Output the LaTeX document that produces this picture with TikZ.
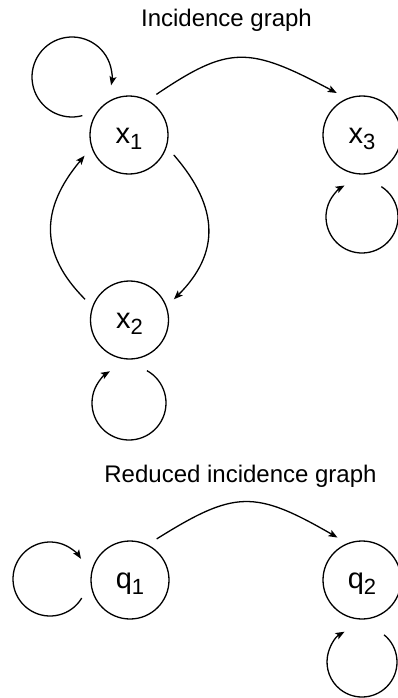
\documentclass[tikz,border=0pt]{standalone}
\usepackage{fontspec}
\setmainfont{Liberation Sans}
\usetikzlibrary{arrows.meta,calc}
\newcommand\idx[1]{\raisebox{-6pt}{\fontsize{22}{24}\selectfont #1}}
\begin{document}
\begin{tikzpicture}[x=1pt,y=1pt,
  state/.style={circle, draw, line width=1.3pt, minimum size=78pt, inner sep=0pt,
    outer sep=10pt, text height=16pt, text depth=0pt, font=\fontsize{29}{30}\selectfont},
  arr/.style={line width=1.3pt, -{Stealth[length=9pt,width=7pt,inset=2pt]}},
  title/.style={anchor=base, inner sep=0pt, font=\fontsize{24}{28}\selectfont}]
\useasboundingbox (0,0) rectangle (398,-698);

% incidence graph
\node[title] (t1) at (226.5,-27) {Incidence graph};
\node[state] (x1) at (129,-135) {x\idx{1}};
\node[state] (x3) at (362,-135) {x\idx{3}};
\node[state] (x2) at (129.5,-320) {x\idx{2}};

\draw[arr] (x1.56) to[out=34, in=152, out distance=88pt, in distance=100pt] (x3.121);
\draw[arr] (x1.-24) to[out=-49, in=45, out distance=70pt, in distance=65pt] (x2.25);
\draw[arr] (x2.155) to[out=135, in=230, out distance=64pt, in distance=70pt] (x1.205);

% self loops, drawn as circular arcs
\coordinate (la) at ($(72,-77)+(-75:40)$);
\draw[arr] (la) arc[start angle=-75, end angle=-372, radius=40];
\coordinate (lb) at ($(362,-217)+(57.5:36)$);
\draw[arr] (lb) arc[start angle=57.5, end angle=-241, radius=36];
\coordinate (lc) at ($(129,-403)+(61:37)$);
\draw[arr] (lc) arc[start angle=61, end angle=-239, radius=37];

% reduced incidence graph
\node[title] (t2) at (240.5,-482) {Reduced incidence graph};
\node[state] (q1) at (130,-580) {q\idx{1}};
\node[state] (q2) at (362,-580) {q\idx{2}};

\draw[arr] (q1.57) to[out=32, in=150, out distance=92pt, in distance=96pt] (q2.120);

\coordinate (ld) at ($(50,-579)+(-31:37)$);
\draw[arr] (ld) arc[start angle=-31, end angle=-327, radius=37];
\coordinate (le) at ($(362,-662)+(51:35)$);
\draw[arr] (le) arc[start angle=51, end angle=-240, radius=35];
\end{tikzpicture}
\end{document}
